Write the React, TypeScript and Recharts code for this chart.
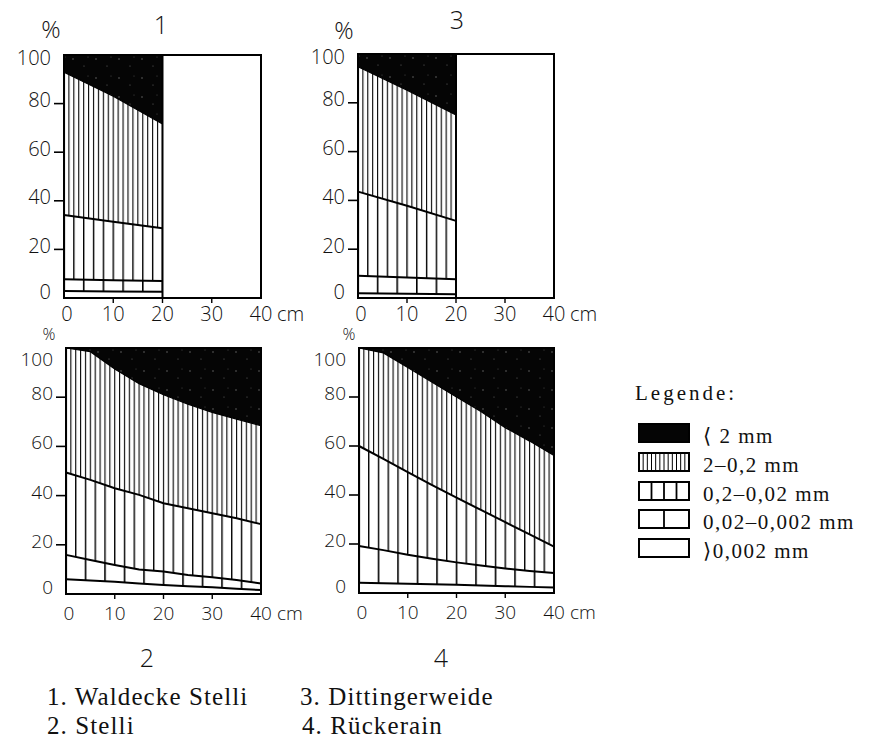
import React from "react";
import { AreaChart, Area, XAxis, YAxis, ReferenceArea, ReferenceLine } from "recharts";

const layerNames = ["⟨ 2 mm", "2–0,2 mm", "0,2–0,02 mm", "0,02–0,002 mm", "⟩0,002 mm"];
const siteNames = ["1. Waldecke Stelli", "2. Stelli", "3. Dittingerweide", "4. Rückerain"];
const depthTicks = [0, 10, 20, 30, 40];
const percentTicks = [0, 20, 40, 60, 80, 100];

// upper boundary of each layer in %, read per depth (cm)
// 1. Waldecke Stelli
const depth1 = [0, 10, 20];
const sand1 = [92.9, 83.0, 71.6];
const fine1 = [34.2, 31.4, 28.7];
const silt1 = [7.7, 7.3, 7.0];
const clay1 = [2.9, 2.7, 2.6];

// 3. Dittingerweide
const depth3 = [0, 10, 20];
const sand3 = [94.8, 85.2, 75.0];
const fine3 = [43.6, 37.8, 31.6];
const silt3 = [9.1, 8.4, 7.7];
const clay3 = [1.9, 1.7, 1.5];

// 2. Stelli
const depth2 = [0, 5, 10, 15, 20, 25, 30, 35, 40];
const sand2 = [100, 98.5, 91.5, 85.5, 81, 77.2, 73.8, 71.1, 68.4];
const fine2 = [49.4, 46.4, 43, 40.3, 36.9, 34.9, 32.8, 30.8, 28.4];
const silt2 = [15.9, 13.8, 11.8, 10.0, 9.1, 7.7, 6.8, 5.7, 4.3];
const clay2 = [6.0, 5.5, 5.0, 4.3, 3.7, 3.2, 2.7, 2.1, 1.6];

// 4. Rückerain
const depth4 = [0, 5, 10, 15, 20, 25, 30, 35, 40];
const sand4 = [100, 98, 92, 86, 80, 74.1, 67.5, 62, 56.1];
const fine4 = [60, 54.7, 49.3, 44, 38.9, 33.9, 28.9, 23.9, 18.9];
const silt4 = [19.2, 17.5, 15.6, 14, 12.5, 11.2, 10, 9, 8.2];
const clay4 = [4.2, 4.0, 3.8, 3.6, 3.4, 3.1, 2.8, 2.5, 2.2];

const toRows = (depth: number[], sand: number[], fine: number[], silt: number[], clay: number[]) =>
  depth.map((d, i) => ({ depth: d, gravel: 100, sand: sand[i], fine: fine[i], silt: silt[i], clay: clay[i] }));

const HAND = "'Open Sans', 'DejaVu Sans', sans-serif";
const SERIF = "'Liberation Serif', 'DejaVu Serif', serif";

const Y_W = 60, M_L = 4, M_T = 20, M_R = 56, M_B = 6, X_H = 34;

function Panel({ id, rows, x, y, w, h, xLabelGap, topDy, fontSize }: any) {
  const left = M_L + Y_W;
  const bottom = M_T + h;
  const cm = w / 40;
  const lastDepth = rows[rows.length - 1].depth;

  const percentTick = (p: any) => {
    const v = p.payload.value;
    const dy = v === 0 ? -7 : v === 100 ? topDy : -4;
    return (
      <g>
        {v > 0 && v < 100 && <line x1={left - 10} x2={left} y1={p.y} y2={p.y} stroke="#000" strokeWidth={1.6} />}
        <text x={left - 13} y={p.y + dy} textAnchor="end" dominantBaseline="central"
          fontFamily={HAND} fontSize={fontSize} fontWeight={300} fill="#111">{v}</text>
      </g>
    );
  };

  const depthTick = (p: any) => {
    const v = p.payload.value;
    return (
      <g>
        {v > 0 && v < 40 && <line x1={p.x} x2={p.x} y1={bottom} y2={bottom + 5} stroke="#000" strokeWidth={1.4} />}
        <text x={p.x + (v === 0 ? 3 : 0)} y={bottom + xLabelGap} textAnchor="middle" dominantBaseline="central"
          fontFamily={HAND} fontSize={fontSize} fontWeight={300} fill="#111">{v}</text>
        {v === 40 && (
          <text x={p.x + 16} y={bottom + xLabelGap} textAnchor="start" dominantBaseline="central"
            fontFamily={HAND} fontSize={fontSize} fontWeight={300} fill="#111">cm</text>
        )}
      </g>
    );
  };

  return (
    <div style={{ position: "absolute", left: x - left, top: y - M_T }}>
      <AreaChart width={left + w + M_R} height={M_T + h + X_H + M_B} data={rows}
        margin={{ top: M_T, right: M_R, bottom: M_B, left: M_L }}>
        <defs>
          <pattern id={`${id}-gravel`} patternUnits="userSpaceOnUse" width={23} height={19}>
            <rect width={23} height={19} fill="#050505" />
            <circle cx={4} cy={5} r={0.7} fill="#777" />
            <circle cx={15} cy={12} r={0.6} fill="#666" />
            <circle cx={19} cy={3} r={0.5} fill="#555" />
          </pattern>
          <pattern id={`${id}-sand`} patternUnits="userSpaceOnUse" x={left - 0.6} width={cm} height={10}>
            <rect width={cm} height={10} fill="#fff" />
            <line x1={0.6} x2={0.6} y1={0} y2={10} stroke="#000" strokeWidth={1.1} />
          </pattern>
          <pattern id={`${id}-fine`} patternUnits="userSpaceOnUse" x={left - 0.7} width={cm * 2} height={10}>
            <rect width={cm * 2} height={10} fill="#fff" />
            <line x1={0.7} x2={0.7} y1={0} y2={10} stroke="#000" strokeWidth={1.4} />
          </pattern>
          <pattern id={`${id}-silt`} patternUnits="userSpaceOnUse" x={left - 0.8} width={cm * 4} height={10}>
            <rect width={cm * 4} height={10} fill="#fff" />
            <line x1={0.8} x2={0.8} y1={0} y2={10} stroke="#000" strokeWidth={1.6} />
          </pattern>
        </defs>
        <XAxis type="number" dataKey="depth" domain={[0, 40]} ticks={depthTicks} interval={0}
          height={X_H} axisLine={false} tickLine={false} tick={depthTick} />
        <YAxis type="number" domain={[0, 100]} ticks={percentTicks} interval={0}
          width={Y_W} axisLine={false} tickLine={false} tick={percentTick} />
        <Area type="linear" dataKey="gravel" fill={`url(#${id}-gravel)`} fillOpacity={1} stroke="none" isAnimationActive={false} />
        <Area type="linear" dataKey="sand" fill={`url(#${id}-sand)`} fillOpacity={1} stroke="#000" strokeWidth={1.2} isAnimationActive={false} />
        <Area type="linear" dataKey="fine" fill={`url(#${id}-fine)`} fillOpacity={1} stroke="#000" strokeWidth={2} isAnimationActive={false} />
        <Area type="linear" dataKey="silt" fill={`url(#${id}-silt)`} fillOpacity={1} stroke="#000" strokeWidth={2} isAnimationActive={false} />
        <Area type="linear" dataKey="clay" fill="#fff" fillOpacity={1} stroke="#000" strokeWidth={2} isAnimationActive={false} />
        {lastDepth < 40 && <ReferenceLine x={lastDepth} stroke="#000" strokeWidth={2} />}
        <ReferenceArea x1={0} x2={40} y1={0} y2={100} fill="none" stroke="#000" strokeWidth={2} ifOverflow="visible" />
      </AreaChart>
    </div>
  );
}

const swatchLines = [0, 12, 4, 2, 1];

function Legend() {
  return (
    <div style={{ position: "absolute", left: 0, top: 0, fontFamily: SERIF, color: "#111" }}>
      <div style={{ position: "absolute", left: 635, top: 393, transform: "translateY(-50%)", fontSize: 21,
        letterSpacing: 3, lineHeight: 1, whiteSpace: "nowrap" }}>Legende:</div>
      {layerNames.map((name, i) => {
        const cy = 433 + i * 28.8;
        return (
          <React.Fragment key={name}>
            <svg width={54} height={22} style={{ position: "absolute", left: 637, top: cy - 11 }}>
              <rect x={2} y={2} width={50} height={18} fill={i === 0 ? "#050505" : "#fff"} stroke="#000" strokeWidth={2} />
              {swatchLines[i] > 1 && Array.from({ length: swatchLines[i] - 1 }, (_, k) => (
                <line key={k} x1={2 + ((k + 1) * 50) / swatchLines[i]} x2={2 + ((k + 1) * 50) / swatchLines[i]}
                  y1={2} y2={20} stroke="#000" strokeWidth={i === 1 ? 1 : 1.8} />
              ))}
            </svg>
            <div style={{ position: "absolute", left: 703, top: cy + 3, transform: "translateY(-50%)", fontSize: 21,
              letterSpacing: 1.5, lineHeight: 1, whiteSpace: "nowrap" }}>{name}</div>
          </React.Fragment>
        );
      })}
    </div>
  );
}

const handText = (t: string, x: number, y: number, size: number) => (
  <div style={{ position: "absolute", left: x, top: y, transform: "translate(-50%, -50%)", fontFamily: HAND,
    fontWeight: 300, fontSize: size, color: "#111", lineHeight: 1 }}>{t}</div>
);

const caption = (t: string, x: number, y: number) => (
  <div style={{ position: "absolute", left: x, top: y, fontFamily: SERIF, fontSize: 25, letterSpacing: 1.1,
    color: "#111", whiteSpace: "nowrap", lineHeight: 1 }}>{t}</div>
);

export default function App() {
  return (
    <div style={{ position: "absolute", left: 0, top: 0, width: 875, height: 742, background: "#fff", overflow: "hidden" }}>
      {handText("%", 51, 29, 24)}
      {handText("1", 161, 24, 25)}
      {handText("%", 344, 30, 24)}
      {handText("3", 457, 19, 25)}
      {handText("%", 49, 334, 16)}
      {handText("%", 349, 334, 16)}
      {handText("2", 147, 657, 25)}
      {handText("4", 441, 657, 25)}
      <Panel id="p1" rows={toRows(depth1, sand1, fine1, silt1, clay1)} x={64} y={55} w={197} h={243}
        xLabelGap={15} topDy={2} fontSize={20} />
      <Panel id="p3" rows={toRows(depth3, sand3, fine3, silt3, clay3)} x={358} y={54} w={196} h={244}
        xLabelGap={15} topDy={2} fontSize={20} />
      <Panel id="p2" rows={toRows(depth2, sand2, fine2, silt2, clay2)} x={66} y={348} w={195} h={246}
        xLabelGap={19} topDy={11} fontSize={19} />
      <Panel id="p4" rows={toRows(depth4, sand4, fine4, silt4, clay4)} x={359} y={348} w={195} h={245}
        xLabelGap={19} topDy={11} fontSize={19} />
      <Legend />
      {caption(siteNames[0], 47, 684)}
      {caption(siteNames[1], 47, 713)}
      {caption(siteNames[2], 300, 684)}
      {caption(siteNames[3], 302, 713)}
    </div>
  );
}
